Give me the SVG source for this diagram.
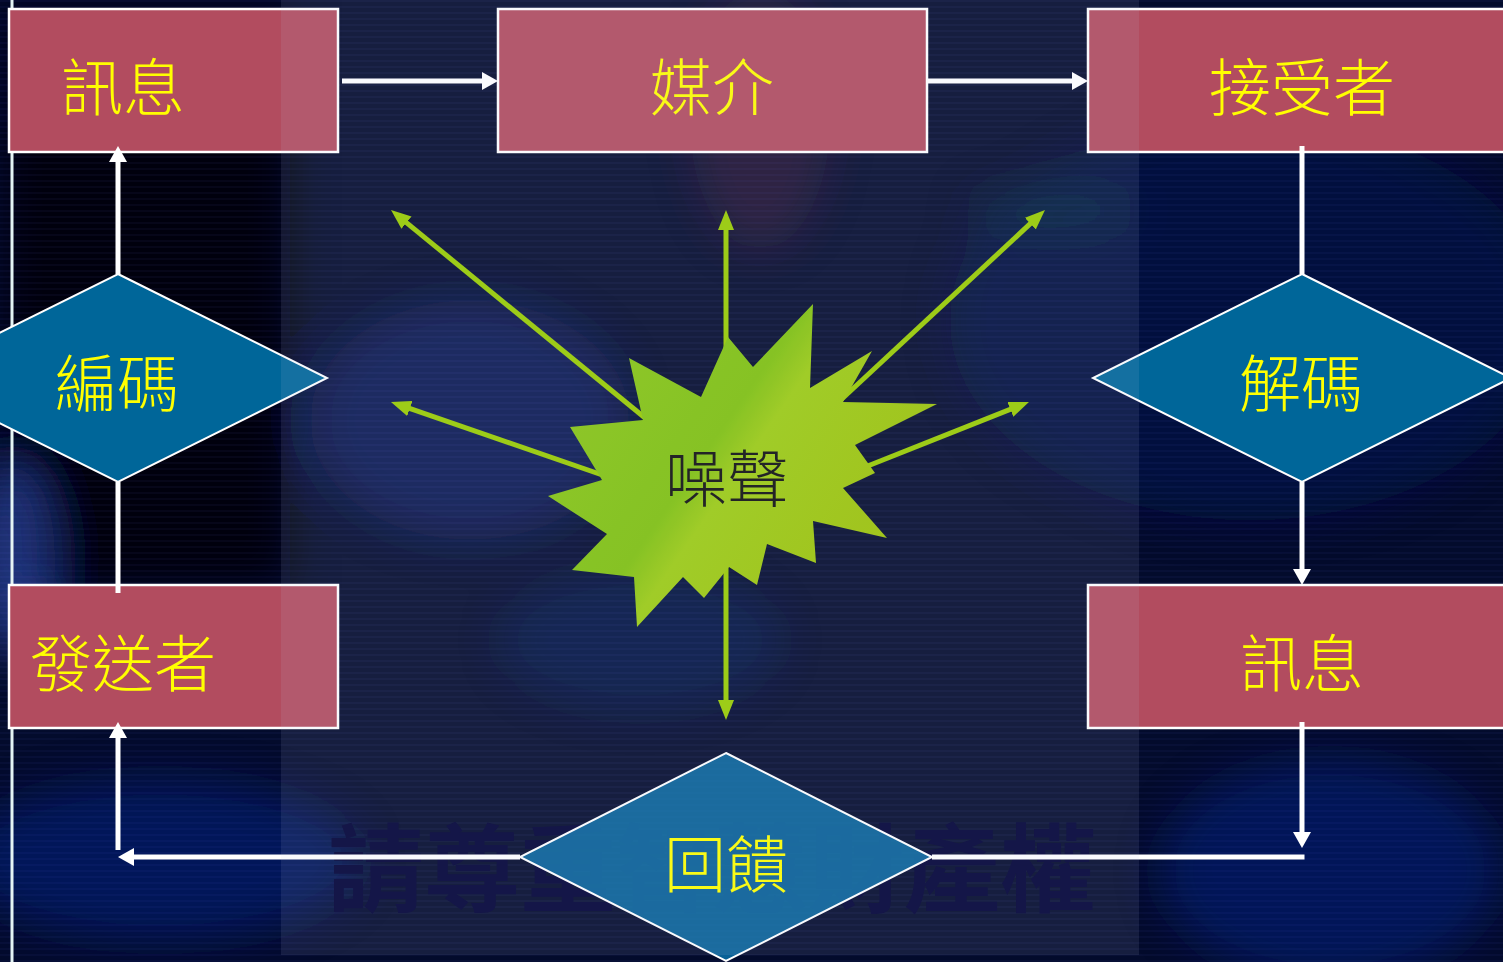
<svg xmlns="http://www.w3.org/2000/svg" width="1503" height="962" viewBox="0 0 1503 962">
<style>
.box{fill:#b24c5f;stroke:#ffffff;stroke-width:2.5}
.dia{fill:#006699;stroke:#ffffff;stroke-width:2}
.lbl{font-family:"Noto Sans CJK TC","Noto Sans CJK SC",sans-serif;font-size:62px;font-weight:300;fill:#ffff00;text-anchor:middle;dominant-baseline:central}
.wire{stroke:#ffffff;stroke-width:5;fill:none}
.noise{stroke:#99cc00;stroke-width:5;fill:none}
</style>
<defs>
<filter id="b20" x="-50%" y="-50%" width="200%" height="200%"><feGaussianBlur stdDeviation="22"/></filter>
<pattern id="scan" width="6" height="6" patternUnits="userSpaceOnUse"><rect width="6" height="2" fill="#7080ff" opacity="0.05"/></pattern>
<linearGradient id="starG" x1="548" y1="330" x2="937" y2="600" gradientUnits="userSpaceOnUse">
<stop offset="0" stop-color="#8cc814"/>
<stop offset="0.42" stop-color="#7fc10e"/>
<stop offset="0.5" stop-color="#9ccc12"/>
<stop offset="1" stop-color="#9dbf00"/>
</linearGradient>
<marker id="wa" viewBox="0 0 16 18" refX="6" refY="9" markerWidth="16" markerHeight="18" markerUnits="userSpaceOnUse" orient="auto"><path d="M0,0 L16,9 L0,18 z" fill="#ffffff"/></marker>
<marker id="ga" viewBox="0 0 20 16" refX="8" refY="8" markerWidth="20" markerHeight="16" markerUnits="userSpaceOnUse" orient="auto"><path d="M0,0 L20,8 L0,16 z" fill="#99cc00"/></marker>
</defs>

<g id="background">
<rect width="1503" height="962" fill="#030b2c"/>
<g filter="url(#b20)">
<rect x="0" y="130" width="290" height="460" fill="#000310"/>
<rect x="0" y="0" width="290" height="130" fill="#01051c"/>
<ellipse cx="15" cy="560" rx="40" ry="100" fill="#3d5cd0" opacity="0.5"/>
<ellipse cx="160" cy="860" rx="200" ry="80" fill="#0c2290" opacity="0.45"/>
<ellipse cx="470" cy="420" rx="160" ry="120" fill="#16309a" opacity="0.35"/>
<ellipse cx="640" cy="640" rx="140" ry="70" fill="#1a34a0" opacity="0.2"/>
<ellipse cx="1330" cy="870" rx="170" ry="110" fill="#0a2a9a" opacity="0.4"/>
<ellipse cx="1250" cy="320" rx="300" ry="200" fill="#08194c" opacity="0.6"/>
<ellipse cx="760" cy="120" rx="70" ry="130" fill="#6a2040" opacity="0.25"/>
<ellipse cx="1050" cy="210" rx="80" ry="20" fill="#062a40" opacity="0.6"/>
</g>
<rect width="1503" height="962" fill="url(#scan)"/>
<text x="712" y="862" font-family="'Noto Sans CJK TC','Noto Sans CJK SC',sans-serif" font-size="96" font-weight="bold" fill="#000236" text-anchor="middle" dominant-baseline="central">請尊重智慧財產權</text>
<line x1="12" y1="0" x2="12" y2="962" stroke="#e4f4f4" stroke-width="3"/>
</g>

<g id="node-msg-top"><rect class="box" x="9" y="9" width="329" height="143"/><text class="lbl" x="123" y="84">訊息</text></g>
<g id="node-medium"><rect class="box" x="498" y="9" width="429" height="143"/><text class="lbl" x="712" y="84">媒介</text></g>
<g id="node-receiver"><rect class="box" x="1088" y="9" width="420" height="143"/><text class="lbl" x="1302" y="84">接受者</text></g>
<g id="node-sender"><rect class="box" x="9" y="585" width="329" height="143"/><text class="lbl" x="123" y="660">發送者</text></g>
<g id="node-msg-bottom"><rect class="box" x="1088" y="585" width="420" height="143"/><text class="lbl" x="1302" y="660">訊息</text></g>
<g id="node-encode"><polygon class="dia" points="118,274 327,378 118,482 -91,378"/><text class="lbl" x="117" y="380">編碼</text></g>
<g id="node-decode"><polygon class="dia" points="1302,274 1511,378 1302,482 1093,378"/><text class="lbl" x="1301" y="380">解碼</text></g>
<g id="node-feedback"><polygon class="dia" points="726,753 932,857 726,961 520,857" style="fill:#0a74ad;fill-opacity:0.82"/><text class="lbl" x="726" y="861">回饋</text></g>

<g id="connectors">
<line class="wire" x1="342" y1="81" x2="488" y2="81" marker-end="url(#wa)"/>
<line class="wire" x1="928" y1="81" x2="1078" y2="81" marker-end="url(#wa)"/>
<line class="wire" x1="1302" y1="146" x2="1302" y2="274"/>
<line class="wire" x1="1302" y1="482" x2="1302" y2="575" marker-end="url(#wa)"/>
<line class="wire" x1="1302" y1="722" x2="1302" y2="838" marker-end="url(#wa)"/>
<line class="wire" x1="1304.5" y1="857" x2="932" y2="857"/>
<line class="wire" x1="520" y1="857" x2="128" y2="857" marker-end="url(#wa)"/>
<line class="wire" x1="118" y1="850" x2="118" y2="732" marker-end="url(#wa)"/>
<line class="wire" x1="118" y1="593" x2="118" y2="482"/>
<line class="wire" x1="118" y1="274" x2="118" y2="156" marker-end="url(#wa)"/>
<line class="noise" x1="650" y1="422" x2="400.3" y2="217.6" marker-end="url(#ga)"/>
<line class="noise" x1="726" y1="420" x2="726" y2="222" marker-end="url(#ga)"/>
<line class="noise" x1="830" y1="410" x2="1036.2" y2="218.2" marker-end="url(#ga)"/>
<line class="noise" x1="640" y1="488" x2="402.3" y2="405.9" marker-end="url(#ga)"/>
<line class="noise" x1="840" y1="477" x2="1017.8" y2="406.4" marker-end="url(#ga)"/>
<line class="noise" x1="726" y1="520" x2="726" y2="708" marker-end="url(#ga)"/>
</g>

<g id="node-noise">
<polygon fill="url(#starG)" points="728,337 753,367 813,304 810,388 872,351 843,402 937,404 855,445 875,473 843,488 887,538 813,521 816,563 767,544 757,585 729,567 704,598 683,577 637,627 634,577 572,570 607,534 548,496 602,480 570,427 643,420 629,358 701,397"/>
<text class="lbl" x="727" y="475" style="fill:#111111">噪聲</text>
</g>

<rect id="overlay" x="281" y="0" width="858" height="955" fill="#c8d2f0" opacity="0.1"/>
</svg>
